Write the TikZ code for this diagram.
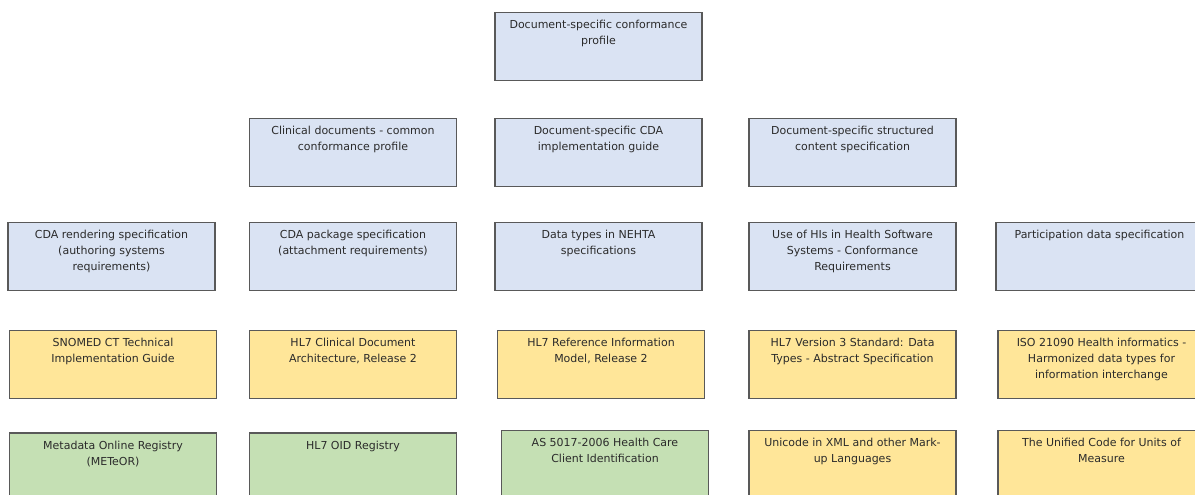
\documentclass[tikz,border=0pt]{standalone}
\usepackage{fontspec}
\setmainfont{DejaVu Sans}
\usepackage{tikz}
\usetikzlibrary{positioning}
\definecolor{specblue}{HTML}{DAE3F3}
\definecolor{baseyellow}{HTML}{FFE699}
\definecolor{regreen}{HTML}{C5E0B4}
\definecolor{boxline}{HTML}{595959}
\definecolor{boxtext}{HTML}{2B2B2B}

\begin{document}
\begin{tikzpicture}[node distance=106pt and 246pt,on grid,
  spec/.style={draw=boxline,line width=1.5pt,fill=specblue,rectangle,
    minimum width=207pt,minimum height=68pt,inner sep=0pt,text=boxtext,
    font=\fontsize{11}{16}\selectfont,
    execute at begin node={\begin{minipage}[c][68pt][t]{204pt}\centering\vspace*{5pt}\strut},
    execute at end node={\end{minipage}}},
  base/.style={spec,fill=baseyellow},
  registry/.style={spec,fill=regreen}]
  \useasboundingbox (0,0) rectangle (1195pt,-495pt);
  % top level
  \node[spec] (docprofile) at (598.5pt,-46.5pt) {Document-specific conformance\\profile};
  % second row
  \node[spec] (cdaguide) [below = of docprofile] {Document-specific CDA\\implementation guide};
  \node[spec] (common) [left = 245.5pt of cdaguide] {Clinical documents - common\\conformance profile};
  \node[spec] (structured) [right = 254pt of cdaguide] {Document-specific structured\\content specification};
  % third row
  \node[spec] (datatypes) [below = 104pt of cdaguide] {Data types in NEHTA\\specifications};
  \node[spec] (package) [left = 245.5pt of datatypes] {CDA package specification\\(attachment requirements)};
  \node[spec] (rendering) [left = 241.5pt of package] {CDA rendering specification\\(authoring systems\\requirements)};
  \node[spec] (hiuse) [right = 254pt of datatypes] {Use of HIs in Health Software\\Systems - Conformance\\Requirements};
  \node[spec] (participation) [right = 247pt of hiuse] {Participation data specification};
  % base standards
  \node[base] (snomed) [below = 108pt of rendering, xshift=1.5pt] {SNOMED CT Technical\\Implementation Guide};
  \node[base] (hl7cda) [below = 108pt of package] {HL7 Clinical Document\\Architecture, Release 2};
  \node[base] (hl7rim) [below = 108pt of datatypes, xshift=2.5pt] {HL7 Reference Information\\Model, Release 2};
  \node[base] (hl7v3) [below = 108pt of hiuse] {HL7 Version 3 Standard: Data\\Types - Abstract Specification};
  \node[base] (iso21090) [below = 108pt of participation, xshift=2pt] {ISO 21090 Health informatics -\\Harmonized data types for\\information interchange};
  % registries and others
  \node[registry] (meteor) [below = 102.5pt of snomed] {Metadata Online Registry\\(METeOR)};
  \node[registry] (oid) [below = 102.5pt of hl7cda] {HL7 OID Registry};
  \node[registry] (as5017) [below = 100pt of hl7rim, xshift=4pt] {AS 5017-2006 Health Care\\Client Identification};
  \node[base] (unicode) [below = 100pt of hl7v3] {Unicode in XML and other Mark-\\up Languages};
  \node[base] (ucum) [below = 100pt of iso21090] {The Unified Code for Units of\\Measure};
\end{tikzpicture}
\end{document}
